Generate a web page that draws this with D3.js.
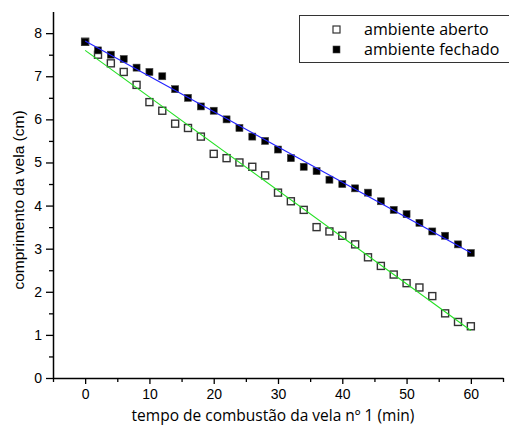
<!DOCTYPE html>
<html>
  <head>
    <meta charset="utf-8">
    <script src="https://d3js.org/d3.v7.min.js"></script>
    <style>
      body { margin: 0; background: #fff; }
      svg { display: block; }
      .tick text { font-family: "Liberation Sans", Arial, sans-serif; font-size: 14px; fill: #000; }
      .domain, .tick line { stroke: #000; }
      .title { font-family: "Open Sans", sans-serif; fill: #000; }
      .ytitle { font-family: "Liberation Sans", Arial, sans-serif; fill: #000; }
    </style>
  </head>
  <body>
    <script>
    // tempo (min) for both candles
    var tempo = [0, 2, 4, 6, 8, 10, 12, 14, 16, 18, 20, 22, 24, 26, 28, 30,
                 32, 34, 36, 38, 40, 42, 44, 46, 48, 50, 52, 54, 56, 58, 60];
    // comprimento (cm), ambiente aberto
    var aberto = [7.8, 7.5, 7.3, 7.1, 6.8, 6.4, 6.2, 5.9, 5.8, 5.6, 5.2, 5.1, 5.0, 4.9, 4.7, 4.3,
                  4.1, 3.9, 3.5, 3.4, 3.3, 3.1, 2.8, 2.6, 2.4, 2.2, 2.1, 1.9, 1.5, 1.3, 1.2];
    // comprimento (cm), ambiente fechado
    var fechado = [7.8, 7.6, 7.5, 7.4, 7.2, 7.1, 7.0, 6.7, 6.5, 6.3, 6.2, 6.0, 5.8, 5.6, 5.5, 5.3,
                   5.1, 4.9, 4.8, 4.6, 4.5, 4.4, 4.3, 4.1, 3.9, 3.8, 3.6, 3.4, 3.3, 3.1, 2.9];
    var xTicks = [0, 10, 20, 30, 40, 50, 60];
    var yTicks = [0, 1, 2, 3, 4, 5, 6, 7, 8];
    var legendLabels = ["ambiente aberto", "ambiente fechado"];

    var width = 509, height = 427;

    var svg = d3.select("body").append("svg")
        .attr("width", width)
        .attr("height", height);

    var x = d3.scaleLinear().domain([-5, 65]).range([53, 503]);
    var y = d3.scaleLinear().domain([0, 8.5]).range([378, 11.6]);

    // minor ticks first so majors sit on top
    svg.append("g")
        .attr("transform", "translate(0,378)")
        .call(d3.axisBottom(x).tickValues(d3.range(-5, 66, 10)).tickSize(4).tickFormat("").tickSizeOuter(0))
        .call(function (g) { g.select(".domain").remove(); })
        .selectAll("line").attr("stroke-width", 1.3);
    svg.append("g")
        .attr("transform", "translate(53,0)")
        .call(d3.axisLeft(y).tickValues(d3.range(0.5, 8.5, 1)).tickSize(4).tickFormat("").tickSizeOuter(0))
        .call(function (g) { g.select(".domain").remove(); })
        .selectAll("line").attr("stroke-width", 1.3);

    var xAxis = svg.append("g")
        .attr("transform", "translate(0,378)")
        .call(d3.axisBottom(x).tickValues(xTicks).tickSize(6).tickPadding(5).tickSizeOuter(0));
    var yAxis = svg.append("g")
        .attr("transform", "translate(53,0)")
        .call(d3.axisLeft(y).tickValues(yTicks).tickSize(7).tickPadding(4).tickSizeOuter(0));
    xAxis.selectAll(".tick line").attr("stroke-width", 1.3);
    yAxis.selectAll(".tick line").attr("stroke-width", 1.3);
    xAxis.select(".domain").attr("stroke-width", 1.5);
    yAxis.select(".domain").attr("stroke-width", 1.5);
    xAxis.attr("font-family", null).attr("font-size", null);
    yAxis.attr("font-family", null).attr("font-size", null);

    // least squares fit
    function fit(xs, ys) {
      var mx = d3.mean(xs), my = d3.mean(ys);
      var sxy = d3.sum(xs, function (v, i) { return (v - mx) * (ys[i] - my); });
      var sxx = d3.sum(xs, function (v) { return (v - mx) * (v - mx); });
      var b = sxy / sxx;
      return function (t) { return my + b * (t - mx); };
    }

    var ends = d3.extent(tempo);

    function drawSeries(vals, filled) {
      var s = 7;
      svg.append("g").selectAll("rect")
        .data(tempo)
        .enter().append("rect")
        .attr("x", function (d) { return x(d) - s / 2; })
        .attr("y", function (d, i) { return y(vals[i]) - s / 2; })
        .attr("width", s)
        .attr("height", s)
        .attr("fill", filled ? "#000" : "#fff")
        .attr("stroke", filled ? "#444" : "#333")
        .attr("stroke-width", filled ? 0.6 : 1.4);
    }

    drawSeries(aberto, false);
    drawSeries(fechado, true);

    var line = d3.line().x(function (d) { return x(d[0]); }).y(function (d) { return y(d[1]); });
    var fa = fit(tempo, aberto), ff = fit(tempo, fechado);
    svg.append("path")
        .attr("d", line(ends.map(function (t) { return [t, fa(t)]; })))
        .attr("fill", "none").attr("stroke", "#22e022").attr("stroke-width", 1.1);
    svg.append("path")
        .attr("d", line(ends.map(function (t) { return [t, ff(t)]; })))
        .attr("fill", "none").attr("stroke", "#2222ff").attr("stroke-width", 1.1);

    // axis titles
    svg.append("text")
        .attr("class", "title")
        .attr("x", 273)
        .attr("y", 421)
        .attr("text-anchor", "middle")
        .attr("font-size", 15.5)
        .text("tempo de combustão da vela nº 1 (min)");
    svg.append("text")
        .attr("class", "ytitle")
        .attr("transform", "translate(24,200) rotate(-90)")
        .attr("text-anchor", "middle")
        .attr("font-size", 15.5)
        .text("comprimento da vela (cm)");

    // legend
    var legend = svg.append("g");
    legend.append("rect")
        .attr("x", 299.5).attr("y", 15.5)
        .attr("width", 230).attr("height", 47)
        .attr("fill", "#fff").attr("stroke", "#333").attr("stroke-width", 1);
    legendLabels.forEach(function (lab, i) {
      var cy = 29.5 + i * 20;
      legend.append("rect")
        .attr("x", 336.5 - 3.5).attr("y", cy - 3.5)
        .attr("width", 7).attr("height", 7)
        .attr("fill", i ? "#000" : "#fff")
        .attr("stroke", i ? "#444" : "#333")
        .attr("stroke-width", i ? 0.6 : 1.2);
      legend.append("text")
        .attr("class", "title")
        .attr("x", 364)
        .attr("y", cy + 5.5)
        .attr("font-size", 16)
        .text(lab);
    });
    </script>
  </body>
</html>
